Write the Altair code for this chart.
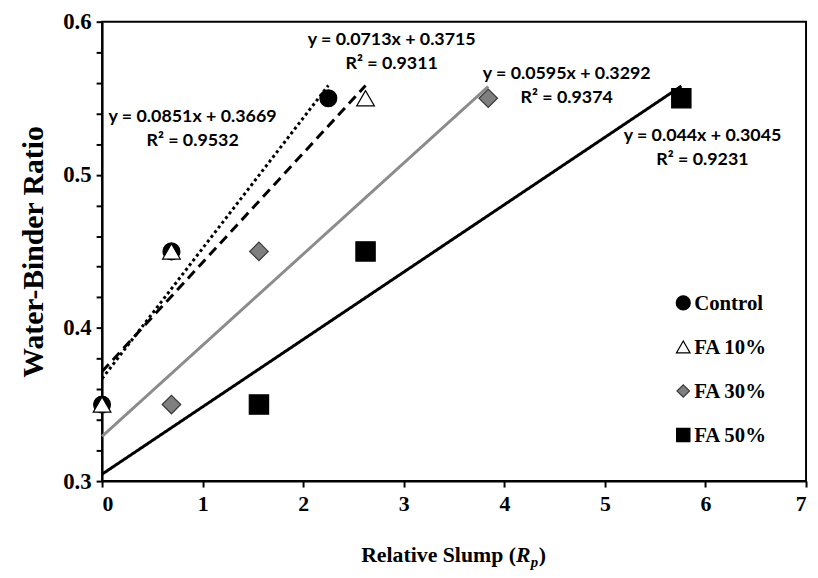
import altair as alt
import pandas as pd

# ---------------- data ----------------
series = ["Control", "FA 10%", "FA 30%", "FA 50%"]
wb_ratio = [0.35, 0.45, 0.55]
slump_control = [0.0, 0.69, 2.25]
slump_fa10 = [0.0, 0.69, 2.62]
slump_fa30 = [0.69, 1.56, 3.84]
slump_fa50 = [1.56, 2.62, 5.76]

slopes = [0.0851, 0.0713, 0.0595, 0.044]
intercepts = [0.3669, 0.3715, 0.3292, 0.3045]
r_squared = ["0.9532", "0.9311", "0.9374", "0.9231"]
eq_text = ["y = 0.0851x + 0.3669", "y = 0.0713x + 0.3715",
           "y = 0.0595x + 0.3292", "y = 0.044x + 0.3045"]
eq_x = [0.9, 2.88, 4.62, 5.97]
eq_y = [0.530, 0.580, 0.558, 0.5175]

x_ticks = [0, 1, 2, 3, 4, 5, 6, 7]
y_ticks = [0.30, 0.32, 0.34, 0.36, 0.38, 0.40, 0.42, 0.44, 0.46, 0.48,
           0.50, 0.52, 0.54, 0.56, 0.58, 0.60]
y_labels = ["0.3", "0.4", "0.5", "0.6"]
xtitle_parts = ["Relative Slump (", "R", "p", ")"]

# ---------------- styling ----------------
shapes = ["circle", "triangle-up", "diamond", "square"]
fills = ["#000000", "#ffffff", "#7f7f7f", "#000000"]
strokes = ["#000000", "#000000", "#3a3a3a", "#000000"]
sizes = [290, 380, 250, 300]
legend_sizes = [200, 190, 160, 180]
line_colors = ["#000000", "#000000", "#8c8c8c", "#000000"]
line_dash = [[3, 3], [10, 6], [1, 0], [1, 0]]

serif = "Liberation Serif"
sans = "Lato"

# ---------------- tables ----------------
slumps = [slump_control, slump_fa10, slump_fa30, slump_fa50]
pts_rows = []
for s, xs in zip(series, slumps):
    for xv, yv in zip(xs, wb_ratio):
        pts_rows.append({"series": s, "x": xv, "y": yv})
pts = pd.DataFrame(pts_rows)

line_rows = []
for s, xs, b, a in zip(series, slumps, slopes, intercepts):
    for xv in (0.0, max(xs)):
        line_rows.append({"series": s, "x": xv, "y": a + b * xv})
lines_df = pd.DataFrame(line_rows)

eq_df = pd.DataFrame({"x": eq_x, "y": eq_y, "eq": eq_text,
                      "r2": ["R² = " + r for r in r_squared]})

x_scale = alt.Scale(domain=[0, 7], nice=False, zero=False)
y_scale = alt.Scale(domain=[0.3, 0.6], nice=False, zero=False)

label_test = " || ".join("format(datum.value, '.2f') == '%s0'" % l for l in y_labels)
x_enc = alt.X("x:Q", scale=x_scale,
              axis=alt.Axis(values=x_ticks, format="d", title=None,
                            labelFontSize=22, labelPadding=7))
y_enc = alt.Y("y:Q", scale=y_scale,
              axis=alt.Axis(values=y_ticks, title="Water-Binder Ratio",
                            labelOverlap=False, labelFontWeight="bold",
                            labelFontSize=23, titleFontSize=30, titlePadding=14,
                            labelExpr="(" + label_test + ") ? format(datum.value, '.1f') : ''"))

points = alt.Chart(pts).mark_point(filled=True, opacity=1, strokeWidth=1.2).encode(
    x=x_enc, y=y_enc,
    shape=alt.Shape("series:N", scale=alt.Scale(domain=series, range=shapes), legend=None),
    fill=alt.Fill("series:N", scale=alt.Scale(domain=series, range=fills), legend=None),
    stroke=alt.Stroke("series:N", scale=alt.Scale(domain=series, range=strokes), legend=None),
    size=alt.Size("series:N", scale=alt.Scale(domain=series, range=sizes), legend=None),
)

trend = alt.Chart(lines_df).mark_line(strokeWidth=3).encode(
    x=x_enc, y=y_enc,
    color=alt.Color("series:N", scale=alt.Scale(domain=series, range=line_colors), legend=None),
    strokeDash=alt.StrokeDash("series:N", scale=alt.Scale(domain=series, range=line_dash), legend=None),
)

eq1 = alt.Chart(eq_df).mark_text(font=sans, fontWeight="bold", fontSize=18,
                                 color="black", dy=-12, baseline="middle").encode(
    x=x_enc, y=y_enc, text="eq:N")
eq2 = alt.Chart(eq_df).mark_text(font=sans, fontWeight="bold", fontSize=18,
                                 color="black", dy=12, baseline="middle").encode(
    x=x_enc, y=y_enc, text="r2:N")

one = pd.DataFrame({"k": [0]})

# ---- manual legend (guide) ----
LX, LY0, LDY = 587, 284, 44.5
legend_layers = []
for i, s in enumerate(series):
    legend_layers.append(
        alt.Chart(one).mark_point(filled=True, opacity=1, strokeWidth=1.2).encode(
            x=alt.value(LX), y=alt.value(LY0 + i * LDY),
            shape=alt.value(shapes[i]), fill=alt.value(fills[i]),
            stroke=alt.value(strokes[i]), size=alt.value(legend_sizes[i])))
    legend_layers.append(
        alt.Chart(one).mark_text(font=serif, fontWeight="bold", fontSize=21, align="left",
                                 baseline="middle", color="black").encode(
            x=alt.value(LX + 11), y=alt.value(LY0 + i * LDY + 1), text=alt.value(s)))

# ---- x-axis title with italic R and subscript p ----
X0 = 418
BASE = 546
t1 = alt.Chart(one).mark_text(font=serif, fontWeight="bold", fontSize=22, align="right",
                              baseline="alphabetic", color="black").encode(
    x=alt.value(X0), y=alt.value(BASE), text=alt.value(xtitle_parts[0]))
t2 = alt.Chart(one).mark_text(font=serif, fontWeight="bold", fontStyle="italic", fontSize=22,
                              align="left", baseline="alphabetic", color="black").encode(
    x=alt.value(X0), y=alt.value(BASE), text=alt.value(xtitle_parts[1]))
t3 = alt.Chart(one).mark_text(font=serif, fontWeight="bold", fontStyle="italic", fontSize=15,
                              align="left", baseline="alphabetic", color="black").encode(
    x=alt.value(X0 + 15), y=alt.value(BASE + 5), text=alt.value(xtitle_parts[2]))
t4 = alt.Chart(one).mark_text(font=serif, fontWeight="bold", fontSize=22,
                              align="left", baseline="alphabetic", color="black").encode(
    x=alt.value(X0 + 23), y=alt.value(BASE), text=alt.value(xtitle_parts[3]))

chart = alt.layer(points, trend, eq1, eq2, *legend_layers, t1, t2, t3, t4).properties(
    width=711, height=464,
    autosize=alt.AutoSizeParams(type="none"),
    padding={"left": 95, "top": 11, "right": 4, "bottom": 90},
).configure_view(
    stroke="black", strokeWidth=2
).configure_axis(
    grid=False, domainColor="black", domainWidth=2, tickColor="black", tickWidth=2,
    tickSize=6, labelFont=serif, labelFontWeight="bold", labelFontSize=22,
    labelColor="black", labelPadding=5, titleFont=serif, titleFontWeight="bold",
    titleFontSize=23, titleColor="black", titlePadding=22, labelOverlap=False
)

chart.save("out.html", embed_options={"renderer": "svg", "actions": False})
